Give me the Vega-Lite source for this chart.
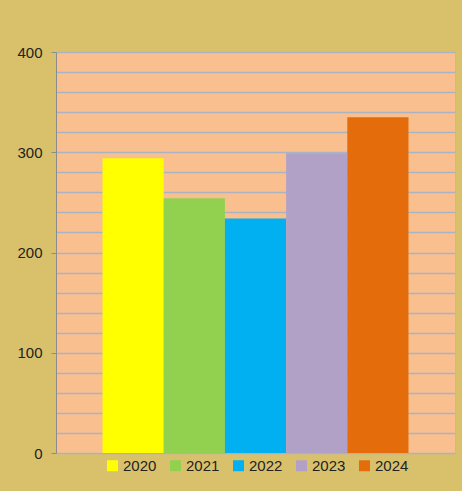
{
  "$schema": "https://vega.github.io/schema/vega-lite/v6.json",
  "autosize": "none",
  "width": 399,
  "height": 401,
  "padding": {"left": 56, "top": 52, "right": 7, "bottom": 38},
  "background": "#D9C16C",
  "config": {
    "view": {"fill": "#F9BF8F", "stroke": "#B4BCCB", "strokeWidth": 1},
    "font": "Liberation Sans"
  },
  "data": {
    "values": [
      {"year": "2020", "value": 294},
      {"year": "2021", "value": 254},
      {"year": "2022", "value": 234},
      {"year": "2023", "value": 299},
      {"year": "2024", "value": 335}
    ]
  },
  "mark": {"type": "bar"},
  "encoding": {
    "x": {
      "field": "year",
      "type": "nominal",
      "axis": null,
      "scale": {"paddingInner": 0, "paddingOuter": 0.76}
    },
    "y": {
      "field": "value",
      "type": "quantitative",
      "scale": {"domain": [0, 400], "nice": false},
      "axis": {
        "title": null,
        "values": [0, 20, 40, 60, 80, 100, 120, 140, 160, 180, 200, 220, 240, 260, 280, 300, 320, 340, 360, 380, 400],
        "labelExpr": "datum.value % 100 === 0 ? datum.label : ''",
        "tickOpacity": {"condition": {"test": "datum.value % 100 === 0", "value": 1}, "value": 0},
        "tickSize": 5,
        "tickColor": "#8C8C8C",
        "domainColor": "#8C8C8C",
        "gridColor": "#ABB3C3",
        "gridWidth": 1.5,
        "labelFontSize": 15,
        "labelColor": "#222222",
        "labelPadding": 9
      }
    },
    "color": {
      "field": "year",
      "type": "nominal",
      "scale": {"range": ["#FFFF00", "#92D050", "#00B0F0", "#B2A1C7", "#E46C0A"]},
      "legend": {
        "title": null,
        "orient": "none",
        "legendX": 49,
        "legendY": 406,
        "direction": "horizontal",
        "symbolType": "square",
        "symbolSize": 121,
        "symbolStrokeWidth": 0,
        "labelFontSize": 15,
        "labelOffset": 3,
        "labelColor": "#222222",
        "columnPadding": 11
      }
    }
  }
}
